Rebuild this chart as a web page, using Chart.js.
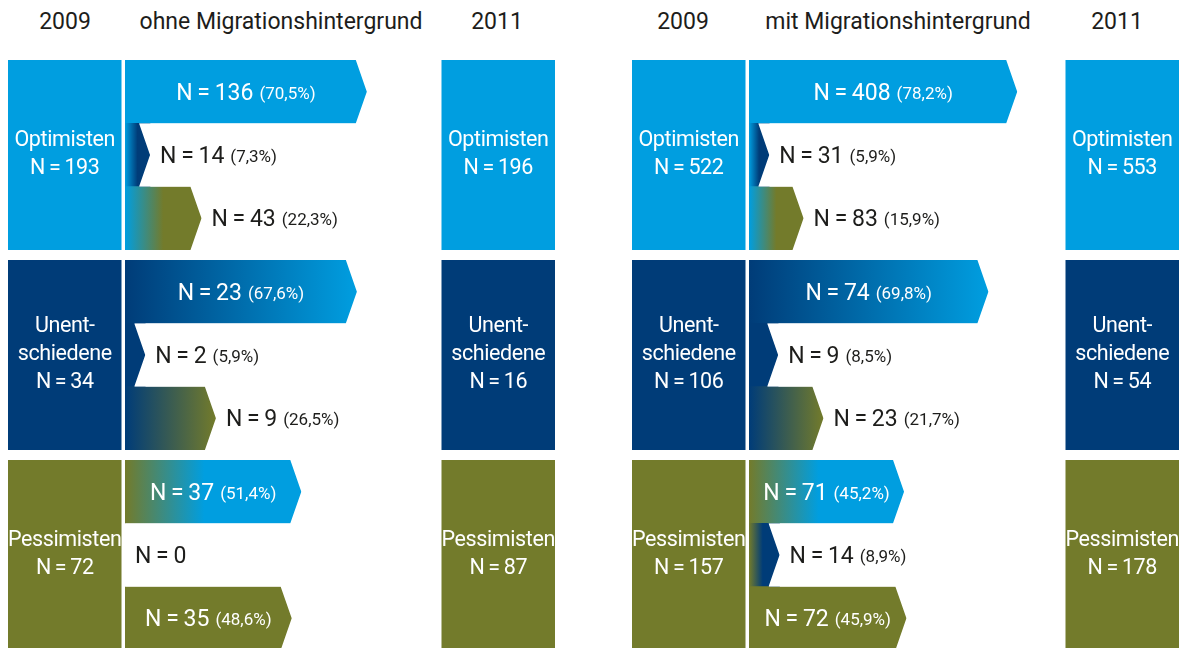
<!DOCTYPE html>
<html lang="de">
<head>
<meta charset="utf-8">
<title>Optimisten, Unentschiedene, Pessimisten 2009 und 2011</title>
<script src="https://cdn.jsdelivr.net/npm/chart.js@4.4.1/dist/chart.umd.min.js"></script>
<style>
  body { margin: 0; background: #fff; font-family: Roboto, sans-serif; }
  #wrap { position: relative; width: 1179px; height: 648px; overflow: hidden; }
  .panel { position: absolute; top: 0; width: 555px; height: 648px; }
  .panel canvas { position: absolute; left: 0; top: 0; }
  .hd { position: absolute; top: 8px; transform: translateX(-50%); font-size: 23px; line-height: 28px; color: #1d1d1b; white-space: nowrap; }
</style>
</head>
<body>
<div id="wrap"></div>
<script>
// categories and titles
const groups = ["Optimisten", "Unentschiedene", "Pessimisten"];
const groupLines = [["Optimisten"], ["Unent-", "schiedene"], ["Pessimisten"]];
const years = ["2009", "2011"];
const panelTitles = ["ohne Migrationshintergrund", "mit Migrationshintergrund"];

// ohne Migrationshintergrund
const ohneN2009 = [193, 34, 72];
const ohneN2011 = [196, 16, 87];
const ohneFlowN = [[136, 14, 43], [23, 2, 9], [37, 0, 35]];
const ohneFlowPct = [[70.5, 7.3, 22.3], [67.6, 5.9, 26.5], [51.4, 0, 48.6]];

// mit Migrationshintergrund
const mitN2009 = [522, 106, 157];
const mitN2011 = [553, 54, 178];
const mitFlowN = [[408, 31, 83], [74, 9, 23], [71, 14, 72]];
const mitFlowPct = [[78.2, 5.9, 15.9], [69.8, 8.5, 21.7], [45.2, 8.9, 45.9]];

// look & layout
const colors = ["#009ee0", "#003c78", "#737b2b"];
const spread = [0.5, 1, 0.45];   // share of the arrow used for the colour change, by 2009 group
const textDark = "#1d1d1b";
const TIP = 11;
const PX_PER_PCT = 3.43;
const ARROW_LEFT = 125;
const PANEL_W = 555;
const TOP = 60, H = 648;
const ROW_PX = 190 / 3;
const GAP_ROWS = 10 / ROW_PX;
const BOX_FILL = 190 / 200;
const X_MIN = -ARROW_LEFT / PX_PER_PCT;
const X_MAX = (PANEL_W - ARROW_LEFT) / PX_PER_PCT;
const BOX_2009 = [(8 - ARROW_LEFT) / PX_PER_PCT, (121.5 - ARROW_LEFT) / PX_PER_PCT];
const BOX_2011 = [(441.5 - ARROW_LEFT) / PX_PER_PCT, X_MAX];
const Y_MAX = (H - TOP) / ROW_PX;
const panelLeft = [0, 624];
const headX = [[65, 281, 497], [59, 274, 493]];

function rowPos(g, r) { return g * (3 + GAP_ROWS) + r + 0.5; }
function groupPos(g) { return g * (3 + GAP_ROWS) + 1.5; }
function fmtPct(p) { return p.toFixed(1).replace(".", ",") + "%"; }

function arrowFill(context) {
  const chart = context.chart;
  const raw = context.raw;
  if (!raw) return colors[0];
  const from = colors[raw.from], to = colors[raw.to];
  if (raw.from === raw.to || !chart.scales.x) return from;
  const xs = chart.scales.x;
  const x0 = xs.getPixelForValue(raw.x[0]);
  const x1 = xs.getPixelForValue(raw.x[1]);
  const g = chart.ctx.createLinearGradient(x0, 0, x0 + Math.max(1, (x1 - x0) * spread[raw.from]), 0);
  g.addColorStop(0, from);
  g.addColorStop(1, to);
  return g;
}

const flowPlugin = {
  id: "flow",
  beforeDatasetDraw(chart, args) {
    if (chart.data.datasets[args.index].kind !== "arrow") return;
    const ctx = chart.ctx;
    ctx.save();
    ctx.beginPath();
    args.meta.data.forEach(bar => {
      const { x, y, base, height } = bar.getProps(["x", "y", "base", "height"], true);
      if (x - base < 1) return;
      const tip = Math.min(TIP, x - base);
      const top = y - height / 2, bottom = y + height / 2;
      ctx.moveTo(base, top);
      ctx.lineTo(x - tip, top);
      ctx.lineTo(x, y);
      ctx.lineTo(x - tip, bottom);
      ctx.lineTo(base, bottom);
      ctx.closePath();
    });
    ctx.clip();
  },
  afterDatasetDraw(chart, args) {
    if (chart.data.datasets[args.index].kind !== "arrow") return;
    chart.ctx.restore();
  },
  afterDatasetsDraw(chart) {
    const ctx = chart.ctx;
    ctx.save();
    chart.data.datasets.forEach((ds, i) => {
      const meta = chart.getDatasetMeta(i);
      meta.data.forEach((bar, j) => {
        const raw = ds.data[j];
        const { x, y, base } = bar.getProps(["x", "y", "base"], true);
        if (ds.kind === "box") {
          const lines = groupLines[raw.g].concat(["N\u2009=\u2009" + raw.n]);
          ctx.fillStyle = "#fff";
          ctx.font = "21.5px Roboto";
          ctx.letterSpacing = "-0.4px";
          ctx.textAlign = "center";
          ctx.textBaseline = "middle";
          const cx = (x + base) / 2;
          lines.forEach((l, k) => ctx.fillText(l, cx, y + (k - (lines.length - 1) / 2) * 28));
          ctx.letterSpacing = "0px";
        } else {
          const main = "N\u2009=\u2009" + raw.n;
          const sub = raw.pct > 0 ? "(" + fmtPct(raw.pct) + ")" : "";
          ctx.font = "23px Roboto";
          const w1 = ctx.measureText(main).width;
          ctx.font = "17px Roboto";
          const w2 = sub ? ctx.measureText(sub).width + 6 : 0;
          const inside = raw.pct >= 40;
          const left = inside ? (base + x) / 2 - (w1 + w2) / 2 : Math.max(x, base) + 10;
          ctx.fillStyle = inside ? "#fff" : textDark;
          ctx.textAlign = "left";
          ctx.textBaseline = "alphabetic";
          ctx.font = "23px Roboto";
          ctx.fillText(main, left, y + 8);
          if (sub) {
            ctx.font = "17px Roboto";
            ctx.fillText(sub, left + w1 + 6, y + 7);
          }
        }
      });
    });
    ctx.restore();
  }
};

function makePanel(p, n2009, n2011, flowN, flowPct) {
  const wrap = document.getElementById("wrap");
  const panel = document.createElement("div");
  panel.className = "panel";
  panel.style.left = panelLeft[p] + "px";
  const heads = [years[0], panelTitles[p], years[1]];
  heads.forEach((t, k) => {
    const d = document.createElement("div");
    d.className = "hd";
    d.style.left = headX[p][k] + "px";
    d.textContent = t;
    panel.appendChild(d);
  });
  const canvas = document.createElement("canvas");
  canvas.width = PANEL_W;
  canvas.height = H;
  panel.appendChild(canvas);
  wrap.appendChild(panel);

  const arrows = [];
  groups.forEach((g, i) => {
    groups.forEach((t, j) => {
      arrows.push({ x: [0, flowPct[i][j]], y: rowPos(i, j), n: flowN[i][j], pct: flowPct[i][j], from: i, to: j });
    });
  });
  const boxes2009 = groups.map((g, i) => ({ x: BOX_2009, y: groupPos(i), n: n2009[i], g: i }));
  const boxes2011 = groups.map((g, i) => ({ x: BOX_2011, y: groupPos(i), n: n2011[i], g: i }));

  new Chart(canvas.getContext("2d"), {
    type: "bar",
    data: {
      datasets: [
        { kind: "box", label: years[0], data: boxes2009, yAxisID: "yBox", barPercentage: BOX_FILL,
          backgroundColor: boxes2009.map(b => colors[b.g]) },
        { kind: "box", label: years[1], data: boxes2011, yAxisID: "yBox", barPercentage: BOX_FILL,
          backgroundColor: boxes2011.map(b => colors[b.g]) },
        { kind: "arrow", label: panelTitles[p], data: arrows, yAxisID: "y",
          backgroundColor: arrowFill }
      ]
    },
    options: {
      indexAxis: "y",
      responsive: false,
      animation: false,
      events: [],
      grouped: false,
      borderWidth: 0,
      datasets: { bar: { categoryPercentage: 1, barPercentage: 1 } },
      layout: { padding: { top: TOP, bottom: 0, left: 0, right: 0 } },
      plugins: { legend: { display: false }, tooltip: { enabled: false } },
      scales: {
        x: { type: "linear", min: X_MIN, max: X_MAX, display: false },
        y: { type: "linear", min: 0, max: Y_MAX, reverse: true, offset: false, display: false, ticks: { count: 2 } },
        yBox: { type: "linear", axis: "y", min: 0, max: Y_MAX, reverse: true, offset: false, display: false, ticks: { count: 2 } }
      }
    },
    plugins: [flowPlugin]
  });
}

window.onload = function() {
  makePanel(0, ohneN2009, ohneN2011, ohneFlowN, ohneFlowPct);
  makePanel(1, mitN2009, mitN2011, mitFlowN, mitFlowPct);
};
</script>
</body>
</html>
